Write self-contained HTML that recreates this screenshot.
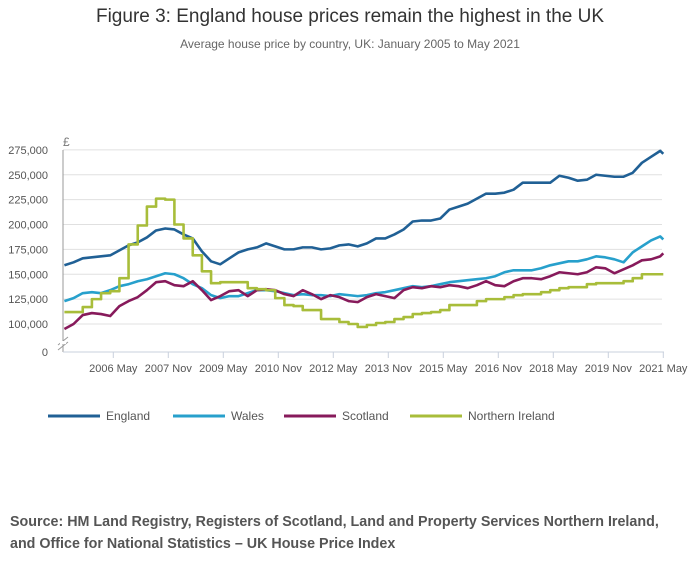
<!DOCTYPE html>
<html><head><meta charset="utf-8"><style>
body{margin:0;background:#fff;font-family:"Liberation Sans",sans-serif;}
#wrap{position:relative;width:700px;height:574px;overflow:hidden}
.t{position:absolute;white-space:nowrap}
</style></head><body>
<div id="wrap">
<div class="t" style="left:0;width:700px;text-align:center;top:6px;font-size:19px;color:#333">Figure 3: England house prices remain the highest in the UK</div>
<div class="t" style="left:0;width:700px;text-align:center;top:37px;font-size:12px;color:#666">Average house price by country, UK: January 2005 to May 2021</div>
<svg id="chart" width="700" height="574" style="position:absolute;left:0;top:0"></svg>
<div class="t" style="left:10px;top:511px;font-size:14.3px;font-weight:bold;color:#555;line-height:22px">Source: HM Land Registry, Registers of Scotland, Land and Property Services Northern Ireland,<br>and Office for National Statistics – UK House Price Index</div>
</div>
<script>
const months=[0,3,6,9,12,15,18,21,24,27,30,33,36,39,42,45,48,51,54,57,60,63,66,69,72,75,78,81,84,87,90,93,96,99,102,105,108,111,114,117,120,123,126,129,132,135,138,141,144,147,150,153,156,159,162,165,168,171,174,177,180,183,186,189,192,195,196];
const england=[159,162,166,167,168,169,174,179,182,187,194,196,195,190,186,173,163,160,166,172,175,177,181,178,175,175,177,177,175,176,179,180,178,181,186,186,190,195,203,204,204,206,215,218,221,226,231,231,232,235,242,242,242,242,249,247,244,245,250,249,248,248,252,262,268,274,271];
const wales=[123,126,131,132,131,134,138,140,143,145,148,151,150,146,140,136,129,126,128,128,131,134,134,133,131,129,130,129,129,128,130,129,128,129,131,132,134,136,138,137,138,140,142,143,144,145,146,148,152,154,154,154,156,159,161,163,163,165,168,167,165,162,172,178,184,188,185];
const scotland=[95,100,109,111,110,108,118,123,127,134,142,143,139,138,143,134,124,128,133,134,128,134,135,134,130,128,134,130,125,129,127,123,122,127,130,128,126,134,137,136,138,137,139,138,136,139,143,139,138,143,146,146,145,148,152,151,150,152,157,156,151,155,159,164,165,168,171];
const nireland=[112,112,117,125,131,133,146,180,199,218,226,225,200,186,169,153,141,142,142,142,136,135,134,126,119,118,114,114,105,105,102,100,97,99,101,102,105,107,110,111,112,114,119,119,119,123,125,125,127,129,130,130,132,134,136,137,137,140,141,141,141,143,146,150,150,150,150];
const yTicks=[100000,125000,150000,175000,200000,225000,250000,275000];
const yTickLabels=["100,000","125,000","150,000","175,000","200,000","225,000","250,000","275,000"];
const xTickMonths=[16,34,52,70,88,106,124,142,160,178,196];
const xTickLabels=["2006 May","2007 Nov","2009 May","2010 Nov","2012 May","2013 Nov","2015 May","2016 Nov","2018 May","2019 Nov","2021 May"];
const seriesNames=["England","Wales","Scotland","Northern Ireland"];
const seriesColors=["#206095","#27a0cc","#871a5b","#a8bd3a"];

const X=m=>64.4+m*(55/18);
const Y=v=>324-(v-100000)*0.000995;
const svg=document.getElementById('chart');
const NS='http://www.w3.org/2000/svg';
function mk(tag,at){const e=document.createElementNS(NS,tag);for(const k in at)e.setAttribute(k,at[k]);svg.appendChild(e);return e;}
yTicks.forEach((v,i)=>{
  const g=mk('line',{x1:63,x2:662,y1:Y(v),y2:Y(v),stroke:'#e0e0e0','stroke-width':1});
  
  
  const t=mk('text',{x:48,y:Y(v)+4,'text-anchor':'end','font-size':11,fill:'#555'});
  t.textContent=yTickLabels[i];
  
  
});
const z=mk('text',{x:48,y:356,'text-anchor':'end','font-size':11,fill:'#555'});z.textContent='0';


const pound=mk('text',{x:63,y:146,'font-size':12,fill:'#777'});pound.textContent='£';


const ax=mk('line',{x1:63,x2:63,y1:150,y2:352,stroke:'#999','stroke-width':1});


mk('line',{x1:58,x2:68,y1:345,y2:337,stroke:'#999'});
mk('line',{x1:58,x2:68,y1:350,y2:342,stroke:'#999'});
mk('rect',{x:60,y:341,width:6,height:3,fill:'#fff'});
const xa=mk('line',{x1:63,x2:664,y1:352,y2:352,stroke:'#c8d0dc','stroke-width':1});


xTickMonths.forEach((m,i)=>{
  mk('line',{x1:X(m),x2:X(m),y1:352,y2:358,stroke:'#c8d0dc'});
  const t=mk('text',{x:X(m),y:372,'text-anchor':'middle','font-size':11,fill:'#555'});
  t.textContent=xTickLabels[i];
  
  
});
const data=[england,wales,scotland,nireland];
data.forEach((arr,s)=>{
  let d='';
  arr.forEach((v,i)=>{
    const x=X(months[i]),y=Y(v*1000);
    if(i==0)d='M'+x+' '+y;
    else if(s==3)d+=' H'+x+' V'+y;
    else d+=' L'+x+' '+y;
  });
  const p=mk('path',{d:d,fill:'none',stroke:seriesColors[s],'stroke-width':2.6,'stroke-linejoin':'round'});
  
  
});
const legX=[48,173,284,410];
seriesNames.forEach((n,i)=>{
  const l=mk('line',{x1:legX[i],x2:legX[i]+52,y1:416,y2:416,stroke:seriesColors[i],'stroke-width':3});
  
  
  const t=mk('text',{x:legX[i]+58,y:420,'font-size':12,fill:'#555'});
  t.textContent=n;
  
  
});
</script>
</body></html>
